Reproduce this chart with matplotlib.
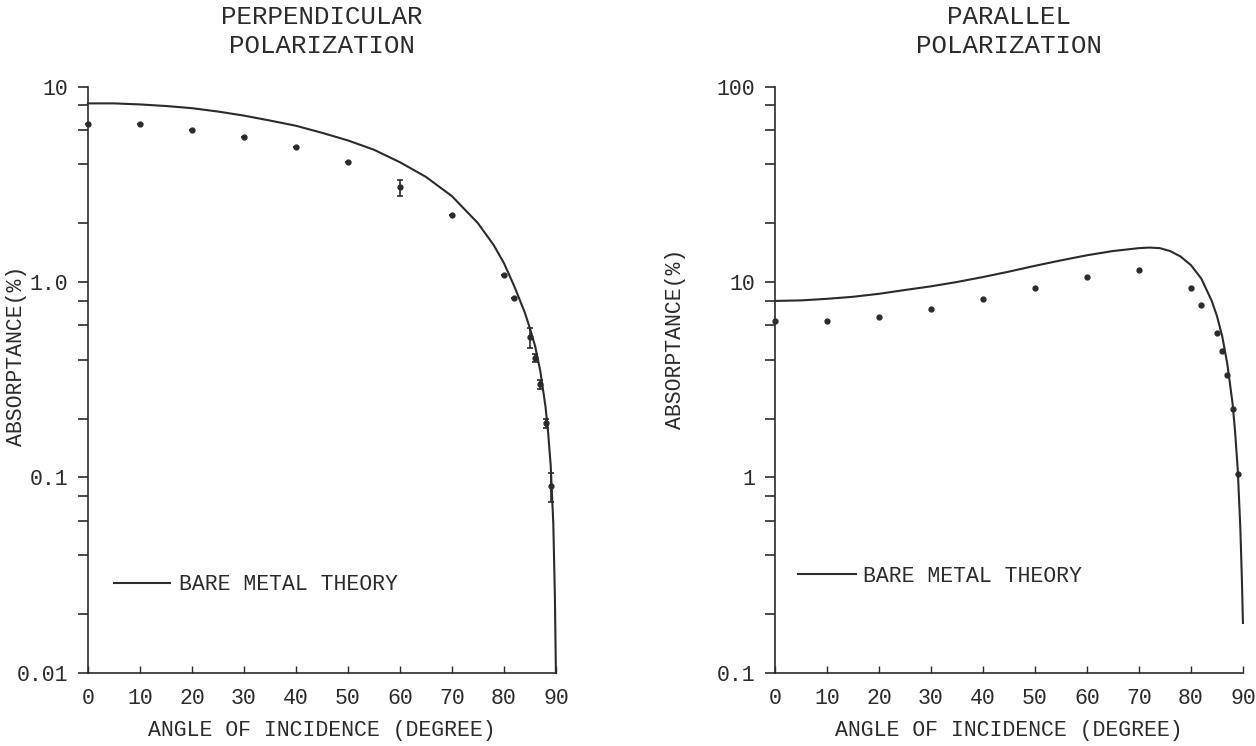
import numpy as np
import matplotlib
matplotlib.use('Agg')
import matplotlib.pyplot as plt
from matplotlib.ticker import FixedLocator, FixedFormatter, NullFormatter

plt.rcParams['font.family'] = ['Liberation Mono', 'DejaVu Sans Mono']
plt.rcParams['font.size'] = 15.5
ink = '#2b2b2b'

# perpendicular polarization
perp_theory_angle = [0, 5, 10, 15, 20, 25, 30, 35, 40, 45, 50, 55, 60, 65, 70, 75, 78, 80, 82, 84, 85, 86, 87, 88, 88.5, 89, 89.5, 89.8, 90]
perp_theory_abs = [8.2, 8.2, 8.1, 7.95, 7.75, 7.45, 7.1, 6.7, 6.3, 5.8, 5.3, 4.75, 4.1, 3.45, 2.75, 2.0, 1.55, 1.25, 0.95, 0.7, 0.58, 0.47, 0.35, 0.23, 0.17, 0.115, 0.058, 0.025, 0.01]
perp_angle = [0, 10, 20, 30, 40, 50, 60, 70, 80, 82, 85, 86, 87, 88, 89]
perp_abs = [6.4, 6.4, 6.0, 5.5, 4.9, 4.1, 3.05, 2.2, 1.09, 0.83, 0.52, 0.41, 0.30, 0.19, 0.09]
perp_err = [0, 0, 0, 0, 0, 0, 0.28, 0, 0, 0, 0.06, 0.02, 0.015, 0.01, 0.015]

# parallel polarization
par_theory_angle = [0, 5, 10, 15, 20, 25, 30, 35, 40, 45, 50, 55, 60, 65, 70, 72, 74, 76, 78, 80, 82, 84, 85, 86, 87, 88, 88.5, 89, 89.5, 89.8, 90]
par_theory_abs = [8.0, 8.05, 8.2, 8.4, 8.7, 9.1, 9.5, 10.0, 10.6, 11.3, 12.1, 12.9, 13.7, 14.4, 14.9, 15.0, 14.9, 14.4, 13.5, 12.2, 10.4, 8.0, 6.7, 5.3, 3.8, 2.4, 1.7, 1.1, 0.55, 0.3, 0.18]
par_angle = [0, 10, 20, 30, 40, 50, 60, 70, 80, 82, 85, 86, 87, 88, 89]
par_abs = [6.3, 6.3, 6.6, 7.3, 8.2, 9.3, 10.6, 11.5, 9.3, 7.6, 5.5, 4.45, 3.36, 2.25, 1.04]

x_ticks = [0, 10, 20, 30, 40, 50, 60, 70, 80, 90]

fig = plt.figure(figsize=(12.56, 7.46), dpi=100)
ax1 = fig.add_axes([0.070, 0.098, 0.3726, 0.786])
ax2 = fig.add_axes([0.617, 0.098, 0.3726, 0.786])


def style(ax, ylo, yhi, major, labels, minor):
    ax.set_yscale('log')
    ax.set_xlim(0, 90)
    ax.set_ylim(ylo, yhi)
    for s in ['top', 'right']:
        ax.spines[s].set_visible(False)
    for s in ['left', 'bottom']:
        ax.spines[s].set_color(ink)
        ax.spines[s].set_linewidth(1.2)
    ax.yaxis.set_major_locator(FixedLocator(major))
    ax.yaxis.set_major_formatter(FixedFormatter(labels))
    ax.yaxis.set_minor_locator(FixedLocator(minor))
    ax.yaxis.set_minor_formatter(NullFormatter())
    ax.tick_params(axis='y', which='both', direction='out', length=7, width=1.2, color=ink, labelcolor=ink, pad=7)
    ax.set_xticks(x_ticks)
    ax.tick_params(axis='x', direction='in', length=5, width=1.0, color=ink, labelcolor=ink, pad=11)
    ax.set_xlabel('ANGLE OF INCIDENCE (DEGREE)', color=ink, labelpad=8)
    ax.set_ylabel('ABSORPTANCE(%)', color=ink)


minor1 = [m * d for d in [0.01, 0.1, 1] for m in [2, 4, 6, 8]]
style(ax1, 0.01, 10, [0.01, 0.1, 1, 10], ['0.01', '0.1', '1.0', '10'], minor1)
minor2 = [m * d for d in [0.1, 1, 10] for m in [2, 4, 6, 8]]
style(ax2, 0.1, 100, [0.1, 1, 10, 100], ['0.1', '1', '10', '100'], minor2)
ax1.yaxis.set_label_coords(-0.13, 0.54)
ax2.yaxis.set_label_coords(-0.19, 0.57)

ax1.plot(perp_theory_angle, perp_theory_abs, color=ink, lw=1.5, label='BARE METAL THEORY', clip_on=False)
ax1.errorbar(perp_angle, perp_abs, yerr=perp_err, fmt='o', ms=3.5, color=ink, ecolor=ink,
             elinewidth=1.2, capsize=2.5, capthick=1.2, clip_on=False)
ax2.plot(par_theory_angle, par_theory_abs, color=ink, lw=1.5, label='BARE METAL THEORY', clip_on=False)
ax2.plot(par_angle, par_abs, 'o', ms=3.5, color=ink, clip_on=False)

ax1.set_title('PERPENDICULAR\nPOLARIZATION', color=ink, pad=24, linespacing=1.25)
ax2.set_title('PARALLEL\nPOLARIZATION', color=ink, pad=24, linespacing=1.25)

ax1.legend(loc='center left', bbox_to_anchor=(0.055, 0.15), frameon=False, borderpad=0,
           borderaxespad=0, handlelength=2.6, handletextpad=0.45, labelcolor=ink)
ax2.legend(loc='center left', bbox_to_anchor=(0.05, 0.165), frameon=False, borderpad=0,
           borderaxespad=0, handlelength=2.7, handletextpad=0.3, labelcolor=ink)

fig.savefig('out.png', dpi=100, facecolor='white')
